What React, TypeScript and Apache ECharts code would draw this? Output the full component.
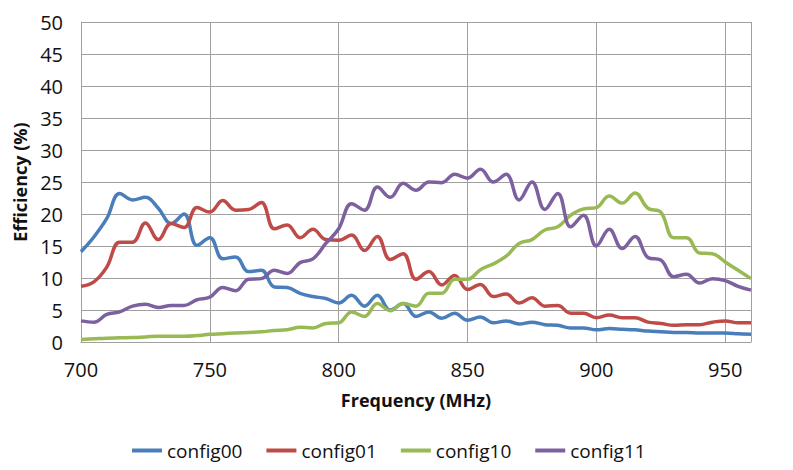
import React, { useEffect, useRef } from "react";
import * as echarts from "echarts";

const freqs = [
  700, 705, 710, 715, 720, 725, 730, 735, 740, 745, 750, 755, 760, 765, 770, 775, 780, 785, 790, 795,
  800, 805, 810, 815, 820, 825, 830, 835, 840, 845, 850, 855, 860, 865, 870, 875, 880, 885, 890, 895,
  900, 905, 910, 915, 920, 925, 930, 935, 940, 945, 950, 955, 960,
];

const config00 = [
  14.1, 16.4, 19.3, 23.2, 22.2, 22.6, 20.9, 18.5, 20.0, 15.1, 16.3, 13.0, 13.3, 11.0, 11.2, 8.6, 8.5, 7.6, 7.1, 6.8,
  6.1, 7.3, 5.6, 7.3, 5.0, 6.0, 4.0, 4.7, 3.7, 4.5, 3.4, 3.9, 3.0, 3.3, 2.8, 3.1, 2.7, 2.6, 2.2, 2.2,
  1.9, 2.1, 2.0, 1.9, 1.7, 1.6, 1.5, 1.5, 1.4, 1.4, 1.4, 1.3, 1.2,
];

const config01 = [
  8.7, 9.4, 11.7, 15.6, 15.6, 18.6, 16.0, 18.5, 17.9, 21.0, 20.3, 22.1, 20.6, 20.7, 21.8, 17.7, 18.3, 16.3, 17.6, 16.0,
  15.9, 16.7, 14.3, 16.5, 12.9, 13.8, 9.8, 11.0, 8.9, 10.4, 8.2, 9.0, 7.1, 7.5, 6.1, 6.9, 5.6, 5.7, 4.5, 4.5,
  3.8, 4.2, 3.8, 3.8, 3.1, 2.9, 2.6, 2.7, 2.7, 3.1, 3.3, 3.0, 3.0,
];

const config10 = [
  0.4, 0.5, 0.6, 0.65, 0.7, 0.8, 0.9, 0.9, 0.9, 1.0, 1.2, 1.3, 1.4, 1.5, 1.6, 1.8, 1.9, 2.3, 2.2, 2.9,
  3.0, 4.7, 4.0, 6.0, 4.9, 6.0, 5.6, 7.6, 7.6, 9.8, 9.8, 11.3, 12.2, 13.4, 15.4, 16.0, 17.5, 18.0, 19.8, 20.8,
  21.0, 22.8, 21.7, 23.3, 20.9, 20.3, 16.3, 16.3, 13.9, 13.8, 12.5, 11.2, 9.9,
];

const config11 = [
  3.3, 3.1, 4.3, 4.7, 5.6, 5.9, 5.4, 5.7, 5.7, 6.6, 7.0, 8.5, 8.0, 9.8, 9.9, 11.2, 10.7, 12.4, 13.0, 15.4,
  17.7, 21.6, 20.6, 24.2, 22.6, 24.8, 23.7, 25.0, 24.9, 26.2, 25.6, 27.0, 25.0, 26.2, 22.2, 25.0, 20.7, 23.2, 18.0, 19.8,
  15.0, 17.6, 14.6, 16.5, 13.2, 12.8, 10.2, 10.6, 9.2, 9.9, 9.6, 8.7, 8.1,
];

const seriesNames = ["config00", "config01", "config10", "config11"];
const seriesValues = [config00, config01, config10, config11];
const colors = ["#4a7ebb", "#be4b48", "#98b954", "#7d60a0"];

const FONT = "'Open Sans', 'Liberation Sans', sans-serif";

export default function App() {
  const ref = useRef<HTMLDivElement>(null);
  useEffect(() => {
    if (!ref.current) return;
    const chart = echarts.init(ref.current, null, { renderer: "svg" });
    chart.setOption({
      animation: false,
      color: colors,
      grid: { left: 73, right: 34, top: 14, bottom: 120, containLabel: false, outerBoundsMode: "none" },
      legend: {
        data: seriesNames,
        top: 428,
        left: 119,
        icon: "rect",
        itemWidth: 30,
        itemHeight: 4,
        itemGap: 24,
        textStyle: { fontFamily: FONT, fontSize: 19, color: "#111" },
      },
      xAxis: {
        type: "value",
        min: 700,
        max: 960,
        interval: 50,
        name: "Frequency (MHz)",
        nameLocation: "middle",
        nameGap: 49,
        nameTextStyle: { fontFamily: FONT, fontSize: 18, fontWeight: "bold", color: "#111" },
        axisLine: { show: true, lineStyle: { color: "#a0a0a0" } },
        axisTick: { show: false },
        axisLabel: { fontFamily: FONT, fontSize: 20, color: "#111", margin: 17, showMaxLabel: false },
        splitLine: { show: true, lineStyle: { color: "#a0a0a0", width: 1 } },
      },
      yAxis: {
        type: "value",
        min: 0,
        max: 50,
        interval: 5,
        name: "Efficiency (%)",
        nameLocation: "middle",
        nameGap: 47,
        nameRotate: 90,
        nameTextStyle: { fontFamily: FONT, fontSize: 18, fontWeight: "bold", color: "#111" },
        axisLine: { show: true, lineStyle: { color: "#a0a0a0" } },
        axisTick: { show: false },
        axisLabel: { fontFamily: FONT, fontSize: 20, color: "#111", margin: 18 },
        splitLine: { show: true, lineStyle: { color: "#a0a0a0", width: 1 } },
      },
      series: seriesNames.map((name, i) => ({
        name,
        type: "line",
        smooth: 0.4,
        symbol: "none",
        lineStyle: { width: 3.5, color: colors[i] },
        data: freqs.map((f, j) => [f, seriesValues[i][j]]),
      })),
    });
    return () => chart.dispose();
  }, []);
  return <div ref={ref} style={{ width: 777, height: 454 }} />;
}
